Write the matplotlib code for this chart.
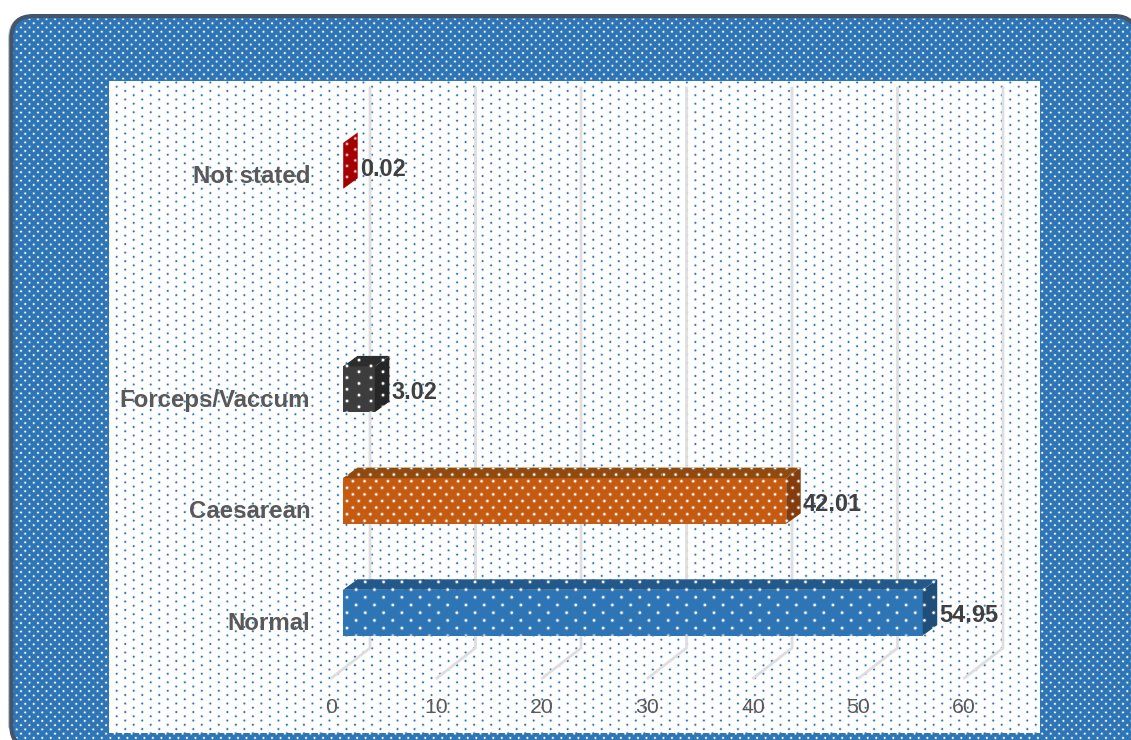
import numpy as np
import matplotlib
matplotlib.use("Agg")
import matplotlib.pyplot as plt
from matplotlib.patches import FancyBboxPatch, Polygon, Rectangle
from matplotlib.transforms import ScaledTranslation

# ---- data ----
categories = ["Normal", "Caesarean", "Forceps/Vaccum", "Not stated"]
positions = [0, 1, 2, 4]
values = [54.95, 42.01, 3.02, 0.02]
value_labels = ["54.95", "42.01", "3.02", "0.02"]
x_ticks = [0, 10, 20, 30, 40, 50, 60]

# ---- style ----
front_colors = ["#2e75b6", "#c55a11", "#3d3d3d", "#a50000"]
top_colors = ["#23588a", "#8f4a10", "#2c2c2c", "#a50000"]
side_colors = ["#1f4e79", "#843c0c", "#262626", "#a50000"]
bar_lattice = [(18.3, 7.7, 1.5), (11.7, 6.6, 1.3), (24.0, 5.85, 1.6), (16.6, 5.5, 1.0)]
W, H = 1131, 740
DPI = 100
AX_L, AX_R, AX_T, AX_B = 343, 976, 88, 678
BLUE = "#2e75b6"
BORDER = "#44546a"
PX_X = (AX_R - AX_L) / 60.0
Y0_PX, PX_Y = 612.7, 111.7
BAR_H = 0.41


def dot_layer(px, row, x0, y0, color, sigma, gain=1.3):
    yy, xx = np.mgrid[0:H, 0:W] + 0.5
    r = np.round((yy - y0) / row)
    xs = x0 + (r % 2) * px / 2
    dx = ((xx - xs + px / 2) % px) - px / 2
    dy = yy - (y0 + r * row)
    a = np.clip(gain * np.exp(-(dx ** 2 + dy ** 2) / (2 * sigma ** 2)), 0, 1)
    rgba = np.zeros((H, W, 4))
    rgba[..., :3] = matplotlib.colors.to_rgb(color)
    rgba[..., 3] = a
    return rgba


plt.rcParams["font.family"] = ["Liberation Sans", "DejaVu Sans"]
fig = plt.figure(figsize=(W / DPI, H / DPI), dpi=DPI, facecolor="white")

# ---- background frame in pixel coordinates ----
bg = fig.add_axes([0, 0, 1, 1], zorder=0)
bg.set_xlim(0, W)
bg.set_ylim(H, 0)
bg.axis("off")
style = "round,pad=0,rounding_size=22"
shadow = FancyBboxPatch((10.0, 16.5), 1126, 732, boxstyle=style, fc="none", ec="#b5b9bf", lw=2.6)
bg.add_patch(shadow)
frame = FancyBboxPatch((11.3, 16), 1125, 732, boxstyle=style, fc=BLUE, ec=BORDER, lw=2.9, zorder=2)
bg.add_patch(frame)
frame_dots = bg.imshow(dot_layer(8.51, 4.254, 38, 19, "white", 0.68), extent=(0, W, H, 0),
                       origin="upper", interpolation="nearest", aspect="auto", zorder=3)
inner_clip = FancyBboxPatch((13.5, 18.5), 1120, 727, boxstyle="round,pad=0,rounding_size=20",
                            transform=bg.transData)
frame_dots.set_clip_path(inner_clip)
inner = Rectangle((109, 81), 931, 652, fc="white", ec="none", zorder=4)
bg.add_patch(inner)
inner_dots = bg.imshow(dot_layer(17.02, 4.254, 116.7, 86.7, BLUE, 0.7), extent=(0, W, H, 0),
                       origin="upper", interpolation="nearest", aspect="auto", zorder=5)
inner_dots.set_clip_path(inner)
bg.set_xlim(0, W)
bg.set_ylim(H, 0)

# ---- chart axes ----
ax = fig.add_axes([AX_L / W, (H - AX_B) / H, (AX_R - AX_L) / W, (AX_B - AX_T) / H], zorder=1)
ax.patch.set_visible(False)
for s in ax.spines.values():
    s.set_visible(False)
y_low = (Y0_PX - AX_B) / PX_Y
y_high = (Y0_PX - AX_T) / PX_Y
depth_x = 14.5 / PX_X
depth_y = 10.5 / PX_Y
wall_x = 27 / PX_X
front_x = -11.5 / PX_X
floor_y = y_low + 30 / PX_Y

# gridlines with their floor stubs
for t in x_ticks:
    ax.plot([t + front_x, t + wall_x, t + wall_x], [y_low, floor_y, y_high],
            color="#dedede", lw=2.0, clip_on=False, zorder=1, solid_joinstyle="miter")

# 3-D bars
ax.barh(positions, values, height=BAR_H, color=front_colors, linewidth=0, zorder=3)
for p, v, top, side, lat, name in zip(positions, values, top_colors, side_colors, bar_lattice, categories):
    lo, hi = p - BAR_H / 2, p + BAR_H / 2
    ax.add_patch(Polygon([(0, hi), (v, hi), (v + depth_x, hi + depth_y), (depth_x, hi + depth_y)],
                         fc=top, ec="none", zorder=3))
    ax.add_patch(Polygon([(v, lo), (v + depth_x, lo + depth_y), (v + depth_x, hi + depth_y), (v, hi)],
                         fc=side, ec="none", zorder=3))
    outline = Polygon([(0, lo), (v, lo), (v + depth_x, lo + depth_y), (v + depth_x, hi + depth_y),
                       (depth_x, hi + depth_y), (0, hi)], transform=ax.transData)
    layer = dot_layer(lat[0], lat[1], AX_L + 4, Y0_PX - p * PX_Y, "white", 0.9, lat[2])[AX_T:AX_B, AX_L:AX_R]
    im = ax.imshow(layer, extent=(0, 60, y_low, y_high), origin="upper", interpolation="nearest",
                   aspect="auto", zorder=4)
    im.set_clip_path(outline)

# value labels
for p, v, lab in zip(positions, values, value_labels):
    ax.annotate(lab, (v, p), xytext=(12.0, -2.3), textcoords="offset points", ha="left", va="center",
                fontsize=16.9, fontweight="bold", color="#404040", zorder=6, annotation_clip=False)

ax.set_xlim(0, 60)
ax.set_ylim(y_low, y_high)
ax.set_xticks(x_ticks)
ax.set_yticks(positions)
ax.set_yticklabels(categories)
ax.tick_params(axis="x", length=0, pad=14.5, labelsize=15.3, labelcolor="#595959")
ax.tick_params(axis="y", length=0, pad=23.6, labelsize=17.3, labelcolor="#595959")
for lab in ax.get_yticklabels():
    lab.set_fontweight("bold")
    lab.set_transform(lab.get_transform() + ScaledTranslation(0, -8.5 / DPI, fig.dpi_scale_trans))
for lab in ax.get_xticklabels():
    lab.set_transform(lab.get_transform() + ScaledTranslation(-12 / DPI, 0, fig.dpi_scale_trans))

fig.savefig("out.png", dpi=DPI, facecolor="white")
